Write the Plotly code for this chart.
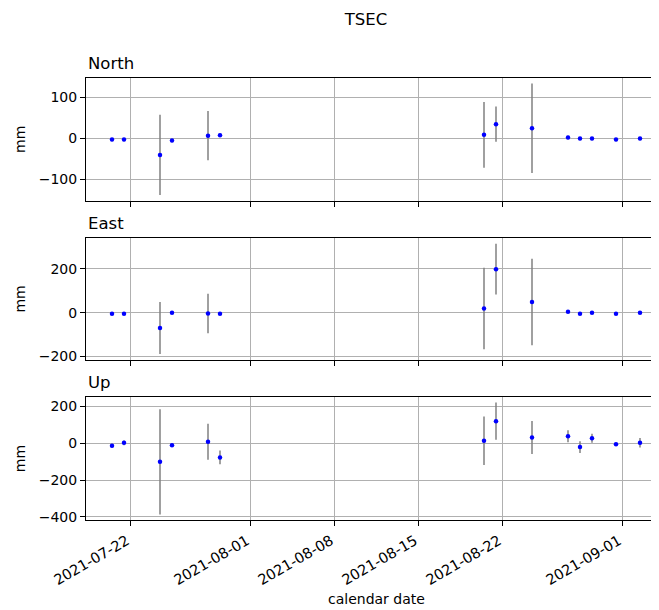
import plotly.graph_objects as go
from plotly.subplots import make_subplots

# ---------------- data ----------------
dates = ["2021-07-20 12:00", "2021-07-21 12:00", "2021-07-24 12:00", "2021-07-25 12:00",
         "2021-07-28 12:00", "2021-07-29 12:00", "2021-08-20 12:00", "2021-08-21 12:00",
         "2021-08-24 12:00", "2021-08-27 12:00", "2021-08-28 12:00", "2021-08-29 12:00",
         "2021-08-31 12:00", "2021-09-02 12:00"]
north = [-2.5, -2.5, -40, -5, 7, 8, 9, 35, 25, 2.5, 0, 0, -2.5, 0]
north_err = [4, 4, 98, 4, 60, 4, 80, 43, 109, 4, 4, 4, 4, 4]
east = [-4.5, -4.5, -70, 0, -4, -4.5, 19, 199, 49, 4.5, -4.5, 0, -4.5, 0]
east_err = [5, 5, 119, 5, 90, 5, 186, 116, 198, 5, 5, 5, 5, 5]
up = [-13, 2, -101, -11, 8, -77, 14, 120, 31, 38, -21, 27, -6, 3]
up_err = [10, 13, 286, 10, 98, 37, 132, 101, 90, 32, 32, 25, 8, 26]

components = ["North", "East", "Up"]
tick_dates = ["2021-07-22", "2021-08-01", "2021-08-08", "2021-08-15", "2021-08-22", "2021-09-01"]
north_ticks = [-100, 0, 100]
east_ticks = [-200, 0, 200]
up_ticks = [-400, -200, 0, 200]
x_range = ["2021-07-18 08:00", "2021-09-04 02:00"]

series = [(north, north_err, north_ticks), (east, east_err, east_ticks), (up, up_err, up_ticks)]

# ---------------- layout helpers ----------------
# the page body has an 8px margin, so figure pixel = page pixel - OFF
OFF = 8
W, H = 659 - OFF, 610 - OFF
L = 86 - OFF
T = 78 - OFF
B = H - (520 - OFF)
PH = H - T - B


def py(y_page):
    return 1 - (y_page - OFF - T) / PH


def px(x_page):
    return (x_page - OFF - L) / (W - L)


domains = [(py(200.7), py(78)), (py(359.5), py(238.3)), (py(520), py(397))]

FONT = "DejaVu Sans"

fig = make_subplots(rows=3, cols=1, shared_xaxes=True)

for i, (vals, errs, ticks) in enumerate(series, start=1):
    fig.add_trace(go.Scatter(
        x=dates, y=vals, mode="markers",
        marker=dict(color="#0000ff", size=4.5),
        error_y=dict(type="data", array=errs, visible=True, color="#808080",
                     thickness=1.5, width=0),
        showlegend=False, hoverinfo="x+y"), row=i, col=1)
    lo = min(v - e for v, e in zip(vals, errs))
    hi = max(v + e for v, e in zip(vals, errs))
    pad = 0.05 * (hi - lo)
    yname = "yaxis" if i == 1 else f"yaxis{i}"
    xname = "xaxis" if i == 1 else f"xaxis{i}"
    fig.layout[yname].update(
        domain=list(domains[i - 1]), range=[lo - pad, hi + pad], automargin=False,
        tickvals=ticks, ticks="outside", ticklen=5, tickwidth=1.1, tickcolor="black",
        showline=True, linecolor="black", linewidth=1.1, mirror=False,
        showgrid=True, gridcolor="#b0b0b0", gridwidth=1.1, zeroline=False,
        tickfont=dict(family=FONT, size=14, color="black"),
        title=dict(text="mm", font=dict(family=FONT, size=14, color="black"), standoff=9))
    fig.layout[xname].update(
        range=x_range, type="date", tickvals=tick_dates, ticktext=tick_dates, automargin=False,
        ticks="outside", ticklen=5, tickwidth=1.1, tickcolor="black",
        showline=True, linecolor="black", linewidth=1.1, mirror=True,
        showgrid=True, gridcolor="#b0b0b0", gridwidth=1.1, zeroline=False,
        showticklabels=(i == 3), tickangle=-30,
        ticklabelshift=-3, ticklabelstandoff=1,
        tickfont=dict(family=FONT, size=14.5, color="black"))
    fig.add_annotation(text=components[i - 1], xref="paper", yref="paper",
                       x=0, y=domains[i - 1][1], xanchor="left", yanchor="bottom",
                       yshift=3, showarrow=False,
                       font=dict(family=FONT, size=16.5, color="black"))

fig.add_annotation(text="calendar date", xref="paper", yref="paper",
                   x=px(376), y=py(599), xanchor="center", yanchor="middle",
                   showarrow=False, font=dict(family=FONT, size=14, color="black"))

fig.update_layout(
    width=W, height=H,
    margin=dict(l=L, r=0, t=T, b=B, autoexpand=False),
    paper_bgcolor="white", plot_bgcolor="white",
    title=dict(text="TSEC", x=(366 - OFF) / W, xref="container", xanchor="center",
               y=1 - (19 - OFF) / H, yref="container", yanchor="middle", automargin=False,
               font=dict(family=FONT, size=16.5, color="black")),
)

fig.write_html("out.html")
